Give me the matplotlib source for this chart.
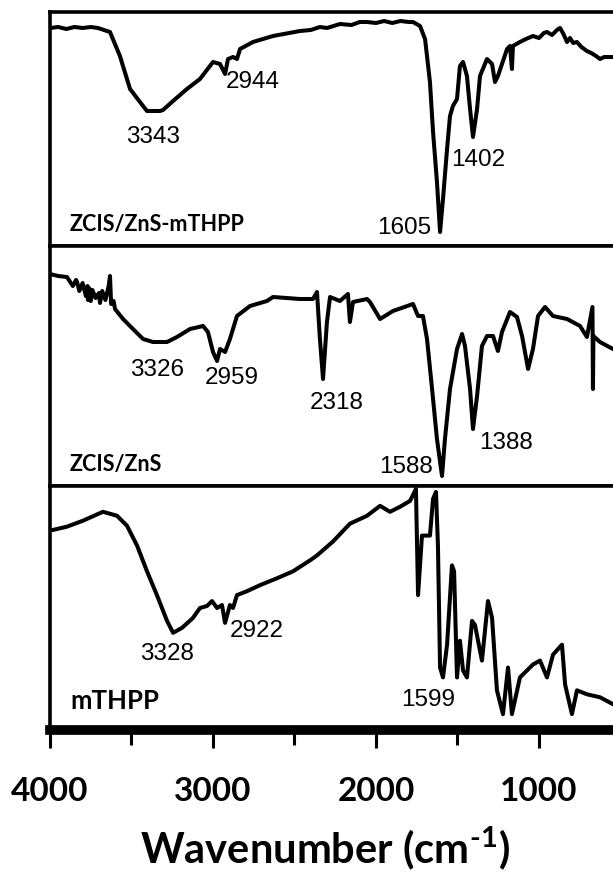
import matplotlib.pyplot as plt
from matplotlib.ticker import FixedLocator

plt.rcParams['font.family'] = ['Lato', 'DejaVu Sans']
plt.rcParams['mathtext.fontset'] = 'custom'
plt.rcParams['mathtext.rm'] = 'Lato:bold'

# FTIR spectra, transmittance in arbitrary units (one scale per panel)
wn_hybrid = [4000, 3950, 3900, 3850, 3800, 3750, 3706, 3632, 3571, 3509, 3448, 3405,
             3360, 3325, 3307, 3245, 3160, 3080, 3000, 2957, 2926, 2908, 2877, 2853,
             2834, 2755, 2632, 2466, 2400, 2344, 2300, 2221, 2150, 2100, 2055, 2000,
             1950, 1900, 1850, 1800, 1773, 1730, 1699, 1669, 1650, 1626, 1607, 1589,
             1564, 1546, 1528, 1503, 1485, 1466, 1442, 1423, 1405, 1380, 1362, 1319,
             1288, 1270, 1252, 1196, 1178, 1166, 1160, 1117, 1080, 1037, 1000, 970,
             951, 920, 890, 871, 850, 828, 810, 790, 767, 740, 706, 680, 650, 626,
             600, 546]
t_hybrid = [218, 219, 217, 219, 218, 219, 218, 214, 190, 157, 144, 135,
            135, 135, 136, 145, 157, 167, 184, 182, 172, 187, 189, 187,
            197, 204, 210, 215, 216, 219, 218, 222, 221, 224, 224, 223,
            225, 223, 225, 224, 224, 220, 207, 164, 114, 64, 14, 47,
            97, 130, 140, 147, 180, 184, 170, 137, 109, 137, 170, 187,
            182, 164, 170, 197, 200, 177, 200, 204, 207, 210, 208, 213,
            214, 211, 216, 218, 212, 204, 208, 203, 204, 199, 195, 193, 190, 187,
            189, 189]

wn_dots = [4000, 3950, 3896, 3880, 3860, 3840, 3834, 3820, 3800, 3780, 3770, 3767,
           3760, 3750, 3740, 3720, 3700, 3693, 3680, 3660, 3640, 3632, 3625, 3610,
           3601, 3552, 3491, 3429, 3368, 3282, 3221, 3141, 3061, 3031, 3000, 2975,
           2957, 2926, 2896, 2853, 2773, 2669, 2632, 2466, 2387, 2362, 2344, 2325,
           2301, 2282, 2221, 2172, 2160, 2141, 2055, 2037, 1975, 1896, 1773, 1742,
           1712, 1687, 1656, 1626, 1595, 1577, 1546, 1503, 1472, 1454, 1423, 1405,
           1380, 1350, 1319, 1282, 1252, 1227, 1178, 1135, 1104, 1067, 1037, 1006,
           963, 914, 828, 748, 706, 672, 669, 666, 626, 546]
t_dots = [212, 210, 209, 205, 200, 206, 204, 195, 203, 190, 200, 186,
          198, 185, 196, 188, 193, 183, 195, 186, 200, 210, 182, 185,
          177, 167, 157, 147, 144, 144, 149, 157, 160, 154, 134, 125,
          137, 134, 147, 170, 180, 185, 189, 187, 187, 194, 147, 107,
          164, 189, 185, 192, 164, 184, 187, 184, 167, 175, 182, 170,
          170, 147, 97, 47, 10, 47, 97, 137, 152, 140, 97, 57,
          90, 140, 150, 150, 135, 154, 174, 169, 150, 117, 137, 170,
          179, 170, 167, 160, 149, 179, 97, 150, 144, 137]

wn_ps = [4000, 3896, 3798, 3675, 3589, 3528, 3466, 3405, 3344, 3282, 3245, 3190,
         3123, 3080, 3037, 3006, 2975, 2945, 2926, 2896, 2877, 2853, 2791, 2712,
         2607, 2509, 2405, 2362, 2264, 2160, 2055, 1975, 1914, 1853, 1791, 1755,
         1742, 1718, 1669, 1650, 1632, 1620, 1607, 1589, 1564, 1534, 1521, 1503,
         1485, 1466, 1442, 1411, 1393, 1350, 1313, 1288, 1258, 1221, 1190, 1166,
         1117, 1037, 994, 951, 914, 859, 840, 798, 767, 706, 626, 546]
t_ps = [197, 201, 207, 216, 212, 202, 182, 156, 132, 106, 94, 99,
        109, 119, 121, 126, 119, 122, 104, 122, 119, 132, 136, 142,
        149, 156, 167, 172, 186, 204, 212, 222, 216, 221, 227, 239,
        132, 192, 192, 229, 236, 182, 59, 49, 82, 162, 156, 49,
        86, 56, 49, 106, 102, 66, 126, 109, 36, 12, 59, 12,
        49, 62, 66, 49, 72, 82, 42, 12, 36, 32, 29, 22]

panels = [
    (wn_hybrid, t_hybrid, 'ZCIS/ZnS-mTHPP', 15.5, (0, 234),
     [('3343', 3368, 110), ('2944', 2755, 165), ('1605', 1828, 19), ('1402', 1374, 87)]),
    (wn_dots, t_dots, 'ZCIS/ZnS', 15.5, (0, 240),
     [('3326', 3343, 117), ('2959', 2883, 109), ('2318', 2239, 84),
      ('1588', 1816, 20), ('1388', 1202, 44)]),
    (wn_ps, t_ps, 'mTHPP', 18.5, (-4, 242),
     [('3328', 3282, 74), ('2922', 2730, 97), ('1599', 1681, 27)]),
]

fig = plt.figure(figsize=(6.13, 8.79), dpi=100)
left, width = 50 / 613, 563 / 613
boxes = [(247, 234), (487, 240), (731, 244)]
axes = []
for (bottom_px, h_px), (wn, t, name, fs, ylim, peaks) in zip(boxes, panels):
    ax = fig.add_axes([left, (879 - bottom_px) / 879, width, h_px / 879])
    ax.plot(wn, t, color='black', lw=2.9, solid_joinstyle='round')
    ax.set_xlim(4000, 546)
    ax.set_ylim(*ylim)
    ax.set_yticks([])
    ax.spines['right'].set_visible(False)
    for side in ('top', 'left', 'bottom'):
        ax.spines[side].set_linewidth(2.6)
    for label, x, y in peaks:
        ax.text(x, y, label, fontsize=17.5, family=['Liberation Sans', 'DejaVu Sans'],
                ha='center', va='center')
    ax.text(3877, 22 if fs < 18 else 26, name, fontsize=fs, fontweight='bold',
            ha='left', va='center')
    ax.tick_params(axis='x', bottom=False, labelbottom=False)
    axes.append(ax)

ax = axes[-1]
ax.spines['bottom'].set_linewidth(7)
ax.xaxis.set_major_locator(FixedLocator([4000, 3000, 2000, 1000]))
ax.xaxis.set_minor_locator(FixedLocator([3500, 2500, 1500]))
ax.tick_params(axis='x', which='both', bottom=True, labelbottom=True, direction='out',
               length=13, width=2.2, pad=20, labelsize=24)
ax.tick_params(axis='x', which='minor', length=11)
for lab in ax.get_xticklabels():
    lab.set_fontweight('bold')

fig.text(0.53, 0.034, r'Wavenumber (cm$^{\text{-1}}$)', fontsize=30,
         fontweight='bold', ha='center', va='center')

fig.savefig('out.png', dpi=100)
